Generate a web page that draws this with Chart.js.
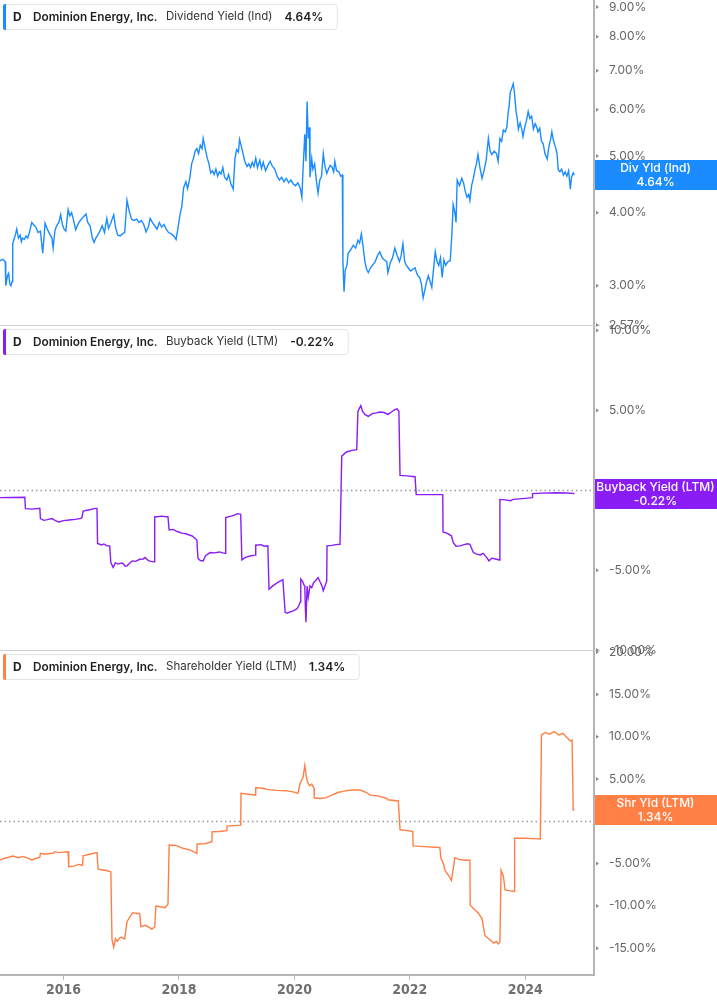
<!DOCTYPE html>
<html><head><meta charset="utf-8">
<script src="https://cdn.jsdelivr.net/npm/chart.js@4.4.1/dist/chart.umd.min.js"></script>
<style>html,body{margin:0;padding:0;background:#fff;}#wrap{position:relative;width:717px;height:1005px;}canvas{display:block;}</style>
</head><body><div id="wrap"><canvas id="c" width="717" height="1005"></canvas></div>
<script>
const ticker = 'D';
const company = 'Dominion Energy, Inc.';
const seriesNames = ['Dividend Yield (Ind)', 'Buyback Yield (LTM)', 'Shareholder Yield (LTM)'];
const shortNames = ['Div Yld (Ind)', 'Buyback Yield (LTM)', 'Shr Yld (LTM)'];
const colors = ['#1a8cff', '#8a1cf5', '#ff7f45'];

const xTicks = [2016, 2018, 2020, 2022, 2024];
const divTicks = [2.57, 3, 4, 5, 6, 7, 8, 9];
const buyTicks = [-10, -5, 0, 5, 10];
const shrTicks = [-15, -10, -5, 0, 5, 10, 15, 20];

const divDates = [2014.90,2014.95,2014.99,2015.00,2015.03,2015.05,2015.07,2015.09,2015.11,2015.12,2015.15,2015.17,2015.19,2015.22,2015.25,2015.27,2015.29,2015.32,2015.35,2015.38,2015.41,2015.45,2015.48,2015.52,2015.56,2015.60,2015.64,2015.66,2015.68,2015.72,2015.76,2015.80,2015.82,2015.85,2015.88,2015.92,2015.95,2015.98,2016.01,2016.04,2016.08,2016.11,2016.14,2016.17,2016.21,2016.25,2016.29,2016.33,2016.36,2016.39,2016.42,2016.46,2016.50,2016.53,2016.56,2016.59,2016.63,2016.67,2016.71,2016.75,2016.78,2016.82,2016.87,2016.90,2016.94,2016.98,2017.02,2017.06,2017.10,2017.14,2017.18,2017.22,2017.27,2017.31,2017.35,2017.39,2017.43,2017.47,2017.50,2017.54,2017.58,2017.62,2017.66,2017.70,2017.74,2017.78,2017.82,2017.87,2017.92,2017.95,2017.98,2018.02,2018.05,2018.08,2018.12,2018.15,2018.19,2018.22,2018.25,2018.28,2018.31,2018.34,2018.37,2018.40,2018.42,2018.46,2018.49,2018.52,2018.55,2018.58,2018.61,2018.64,2018.67,2018.70,2018.73,2018.76,2018.79,2018.83,2018.86,2018.90,2018.94,2018.97,2019.00,2019.03,2019.05,2019.08,2019.11,2019.14,2019.18,2019.21,2019.24,2019.27,2019.30,2019.33,2019.36,2019.40,2019.43,2019.46,2019.50,2019.54,2019.58,2019.62,2019.66,2019.70,2019.74,2019.78,2019.82,2019.86,2019.90,2019.94,2019.98,2020.02,2020.06,2020.10,2020.13,2020.15,2020.18,2020.20,2020.22,2020.24,2020.26,2020.27,2020.30,2020.32,2020.35,2020.38,2020.41,2020.44,2020.47,2020.50,2020.53,2020.56,2020.59,2020.62,2020.65,2020.68,2020.70,2020.73,2020.77,2020.80,2020.83,2020.84,2020.86,2020.88,2020.91,2020.93,2020.97,2021.02,2021.06,2021.10,2021.13,2021.16,2021.19,2021.22,2021.25,2021.28,2021.32,2021.36,2021.40,2021.44,2021.48,2021.52,2021.56,2021.60,2021.62,2021.66,2021.70,2021.74,2021.78,2021.82,2021.85,2021.88,2021.91,2021.94,2021.97,2022.01,2022.05,2022.09,2022.12,2022.14,2022.17,2022.20,2022.23,2022.26,2022.29,2022.32,2022.35,2022.38,2022.41,2022.44,2022.47,2022.50,2022.53,2022.56,2022.59,2022.62,2022.66,2022.70,2022.73,2022.75,2022.78,2022.80,2022.82,2022.86,2022.90,2022.93,2022.96,2022.99,2023.02,2023.04,2023.07,2023.10,2023.13,2023.15,2023.18,2023.21,2023.25,2023.28,2023.32,2023.36,2023.39,2023.42,2023.46,2023.50,2023.53,2023.56,2023.59,2023.62,2023.65,2023.68,2023.70,2023.72,2023.74,2023.77,2023.79,2023.81,2023.84,2023.86,2023.88,2023.91,2023.94,2023.96,2023.99,2024.02,2024.05,2024.08,2024.11,2024.14,2024.17,2024.20,2024.22,2024.25,2024.28,2024.31,2024.34,2024.38,2024.41,2024.44,2024.46,2024.49,2024.53,2024.55,2024.57,2024.60,2024.63,2024.66,2024.69,2024.72,2024.75,2024.78,2024.80,2024.83,2024.85];
const divYield = [3.31,3.33,3.30,3.00,3.12,3.15,3.02,3.00,3.05,3.54,3.62,3.68,3.75,3.62,3.66,3.57,3.62,3.60,3.65,3.62,3.70,3.85,3.82,3.78,3.70,3.72,3.41,3.60,3.84,3.75,3.68,3.62,3.48,3.72,3.80,3.85,3.97,3.82,3.75,3.72,4.05,3.95,4.00,3.90,3.74,3.82,3.88,3.92,3.95,3.98,3.85,3.80,3.62,3.56,3.62,3.66,3.72,3.80,3.70,3.91,3.76,3.84,3.97,3.78,3.66,3.65,3.68,3.70,4.20,4.02,3.90,3.88,3.90,3.85,3.88,3.82,3.71,3.78,3.91,3.85,3.80,3.75,3.85,3.78,3.82,3.75,3.70,3.68,3.64,3.60,3.75,3.98,4.10,4.41,4.52,4.40,4.60,4.85,4.95,5.10,5.15,5.05,5.22,5.15,5.36,5.12,4.96,4.85,4.68,4.72,4.65,4.75,4.62,4.70,4.66,4.78,4.60,4.55,4.65,4.48,4.39,4.95,5.13,5.08,5.34,5.20,5.05,4.90,4.80,4.85,4.78,4.88,4.80,4.96,4.78,4.92,4.76,4.88,4.72,4.82,4.90,4.80,4.75,4.62,4.55,4.60,4.52,4.58,4.50,4.55,4.48,4.45,4.50,4.41,4.25,4.75,5.45,4.90,6.20,5.36,5.60,4.60,4.95,4.75,4.85,4.55,4.32,4.55,4.62,5.05,4.80,4.67,4.75,4.82,4.79,4.70,4.90,4.72,4.70,4.62,4.64,3.31,2.93,3.19,3.25,3.41,3.45,3.52,3.48,3.59,3.55,3.68,3.50,3.31,3.20,3.16,3.22,3.26,3.30,3.38,3.43,3.35,3.32,3.30,3.16,3.28,3.35,3.48,3.38,3.30,3.38,3.54,3.30,3.25,3.22,3.18,3.20,3.22,3.15,3.12,3.10,3.02,2.86,2.95,3.05,3.12,3.05,2.98,3.20,3.43,3.30,3.25,3.35,3.10,3.32,3.25,3.30,3.31,3.71,4.13,4.00,3.85,4.55,4.45,4.58,4.50,4.35,4.25,4.30,4.20,4.45,4.58,4.75,4.83,5.03,4.80,4.58,4.70,4.90,5.36,5.10,5.03,5.10,5.05,4.90,5.36,5.30,5.54,5.50,5.60,5.90,6.10,6.43,6.55,6.65,6.45,5.96,5.80,5.56,5.70,5.55,5.40,5.60,5.75,5.96,5.80,5.85,5.56,5.68,5.60,5.50,5.58,5.30,5.25,5.05,4.94,5.20,5.35,5.50,5.30,5.15,5.05,4.74,4.70,4.75,4.64,4.70,4.62,4.72,4.39,4.60,4.68,4.64];

const buyDates = [2014.90,2015.10,2015.33,2015.34,2015.45,2015.59,2015.60,2015.66,2015.72,2015.80,2015.86,2015.92,2016.00,2016.10,2016.20,2016.30,2016.32,2016.34,2016.45,2016.55,2016.58,2016.59,2016.66,2016.70,2016.75,2016.80,2016.82,2016.86,2016.90,2016.95,2017.00,2017.03,2017.07,2017.10,2017.15,2017.19,2017.25,2017.32,2017.38,2017.41,2017.47,2017.52,2017.57,2017.58,2017.70,2017.81,2017.83,2017.90,2017.97,2018.05,2018.12,2018.18,2018.23,2018.31,2018.33,2018.37,2018.42,2018.46,2018.54,2018.62,2018.70,2018.76,2018.80,2018.81,2018.90,2018.96,2019.01,2019.07,2019.09,2019.15,2019.25,2019.32,2019.33,2019.42,2019.48,2019.54,2019.56,2019.62,2019.70,2019.80,2019.84,2019.88,2019.92,2019.98,2020.04,2020.06,2020.08,2020.10,2020.11,2020.14,2020.17,2020.18,2020.19,2020.20,2020.22,2020.24,2020.27,2020.30,2020.33,2020.37,2020.41,2020.44,2020.48,2020.50,2020.53,2020.56,2020.565,2020.65,2020.72,2020.79,2020.82,2020.90,2021.00,2021.08,2021.10,2021.15,2021.18,2021.22,2021.28,2021.35,2021.42,2021.48,2021.55,2021.62,2021.68,2021.74,2021.78,2021.81,2021.83,2021.95,2022.09,2022.11,2022.30,2022.57,2022.575,2022.65,2022.72,2022.75,2022.80,2022.87,2022.94,2023.00,2023.04,2023.10,2023.16,2023.22,2023.27,2023.33,2023.37,2023.42,2023.48,2023.55,2023.56,2023.65,2023.74,2023.79,2023.95,2024.12,2024.125,2024.30,2024.55,2024.70,2024.83,2024.85];
const buyYield = [-0.46,-0.45,-0.44,-1.15,-1.18,-1.12,-1.77,-1.88,-1.84,-1.77,-1.90,-1.98,-1.90,-1.86,-1.82,-1.76,-1.71,-1.30,-1.22,-1.13,-1.13,-3.33,-3.42,-3.36,-3.48,-3.48,-4.52,-4.83,-4.55,-4.62,-4.55,-4.58,-4.75,-4.73,-4.55,-4.42,-4.45,-4.32,-4.30,-4.21,-4.40,-4.45,-4.48,-1.67,-1.62,-1.67,-2.48,-2.45,-2.58,-2.68,-2.72,-2.80,-2.86,-3.11,-4.27,-4.40,-4.42,-4.10,-3.90,-3.92,-3.86,-3.92,-3.95,-1.71,-1.62,-1.55,-1.46,-1.50,-4.36,-4.20,-4.10,-4.06,-3.44,-3.40,-3.50,-3.48,-6.19,-6.00,-5.80,-5.60,-7.64,-7.70,-7.62,-7.55,-7.43,-7.33,-7.20,-7.00,-5.56,-5.70,-5.95,-6.00,-7.40,-8.26,-6.00,-6.70,-5.98,-6.10,-5.80,-5.65,-5.46,-5.70,-6.00,-6.29,-6.00,-5.67,-3.48,-3.45,-3.40,-3.38,2.14,2.40,2.50,2.55,4.94,5.30,4.95,4.75,4.63,4.80,4.85,4.90,4.87,4.75,4.90,5.05,5.10,4.95,0.93,0.90,0.85,-0.27,-0.27,-0.27,-2.61,-2.70,-2.85,-3.27,-3.50,-3.48,-3.40,-3.35,-3.38,-3.90,-4.00,-4.05,-3.95,-4.20,-4.42,-4.25,-4.30,-4.36,-0.57,-0.60,-0.65,-0.57,-0.52,-0.46,-0.21,-0.18,-0.15,-0.17,-0.19,-0.22];

const shrDates = [2014.90,2014.97,2015.05,2015.12,2015.22,2015.30,2015.38,2015.45,2015.52,2015.59,2015.60,2015.68,2015.76,2015.82,2015.85,2015.92,2016.00,2016.08,2016.09,2016.18,2016.26,2016.33,2016.34,2016.45,2016.58,2016.60,2016.68,2016.76,2016.82,2016.84,2016.87,2016.90,2016.93,2016.97,2017.00,2017.06,2017.10,2017.15,2017.20,2017.27,2017.32,2017.34,2017.42,2017.50,2017.53,2017.58,2017.60,2017.68,2017.76,2017.81,2017.83,2017.95,2018.07,2018.20,2018.31,2018.315,2018.45,2018.57,2018.575,2018.70,2018.83,2018.835,2019.07,2019.075,2019.20,2019.32,2019.33,2019.45,2019.55,2019.70,2019.85,2020.00,2020.06,2020.10,2020.15,2020.18,2020.20,2020.22,2020.26,2020.30,2020.34,2020.345,2020.45,2020.55,2020.62,2020.75,2020.88,2021.00,2021.14,2021.25,2021.31,2021.45,2021.60,2021.62,2021.80,2021.83,2021.95,2022.05,2022.055,2022.25,2022.52,2022.54,2022.58,2022.61,2022.68,2022.72,2022.78,2022.85,2022.95,2023.04,2023.045,2023.10,2023.18,2023.25,2023.30,2023.35,2023.39,2023.45,2023.50,2023.53,2023.56,2023.58,2023.62,2023.65,2023.72,2023.81,2023.815,2024.00,2024.15,2024.26,2024.28,2024.35,2024.42,2024.50,2024.58,2024.65,2024.72,2024.78,2024.81,2024.83,2024.85];
const shrYield = [-4.57,-4.40,-4.25,-4.10,-4.30,-4.15,-4.35,-4.57,-4.40,-4.25,-3.78,-3.90,-3.80,-3.78,-3.59,-3.70,-3.65,-3.60,-5.37,-5.30,-5.10,-5.20,-4.07,-3.90,-3.71,-5.67,-5.75,-5.85,-5.96,-13.95,-14.89,-13.90,-14.20,-13.80,-13.71,-13.90,-11.87,-11.30,-10.80,-10.90,-10.90,-12.46,-12.30,-12.60,-12.77,-12.46,-10.01,-10.10,-10.21,-9.80,-2.80,-2.85,-3.19,-3.40,-3.78,-2.68,-2.65,-2.41,-1.23,-1.20,-1.11,-0.56,-0.45,3.31,3.20,3.11,3.97,3.90,3.75,3.65,3.62,3.45,3.31,4.49,5.20,6.60,5.60,4.80,4.20,4.40,3.90,2.75,2.70,2.80,3.00,3.40,3.60,3.70,3.70,3.40,3.10,3.00,2.70,2.55,2.40,-1.00,-1.10,-1.20,-2.90,-3.00,-3.10,-4.40,-5.00,-5.80,-6.50,-7.00,-4.30,-4.50,-4.60,-4.60,-9.90,-10.30,-10.80,-11.50,-13.50,-13.80,-14.00,-14.40,-14.20,-14.50,-14.30,-5.80,-6.50,-8.10,-8.20,-8.30,-2.00,-2.00,-2.05,-2.10,10.20,10.50,10.30,10.60,10.20,10.40,9.90,9.50,9.60,1.34,1.34];

const toPts = (d, v) => d.map((t, i) => ({x: t, y: v[i]}));
const AXIS = '#b5b5b5';
const TXT = '#666666';
const yFont = {family: 'Inter, "Noto Sans", sans-serif', size: 12};

function yScale(type, min, max, ticksArr) {
  return {
    type, position: 'right', stack: 'panels', stackWeight: 1, min, max,
    afterBuildTicks: s => { s.ticks = ticksArr.map(v => ({value: v})); },
    afterFit: s => { s.width = 123; s.paddingTop = 0; s.paddingBottom = 0; },
    ticks: {autoSkip: false, padding: 7, color: TXT, font: yFont, callback: v => Number(v).toFixed(2) + '%'},
    grid: {display: false},
    border: {display: true, color: AXIS, width: 2}
  };
}

const panelPlugin = {
  id: 'panels',
  beforeDatasetsDraw(chart) {
    const c = chart.ctx, a = chart.chartArea;
    c.save();
    c.strokeStyle = '#9a9a9a'; c.lineWidth = 1.5; c.setLineDash([1.5, 3]);
    ['y2', 'y3'].forEach(id => {
      const y = Math.round(chart.scales[id].getPixelForValue(0)) + 0.5;
      c.beginPath(); c.moveTo(a.left, y); c.lineTo(a.right, y); c.stroke();
    });
    c.restore();
  },
  afterDraw(chart) {
    const c = chart.ctx, a = chart.chartArea;
    const ids = ['y1', 'y2', 'y3'];
    const tickSets = [divTicks, buyTicks, shrTicks];
    const series = [divYield, buyYield, shrYield];
    c.save();
    c.strokeStyle = '#cfcfcf'; c.lineWidth = 1;
    ['y1', 'y2'].forEach(id => {
      const y = Math.round(chart.scales[id].bottom) + 0.5;
      c.beginPath(); c.moveTo(0, y); c.lineTo(a.right + 6, y); c.stroke();
    });
    c.fillStyle = '#8a8a8a';
    ids.forEach((id, k) => {
      const s = chart.scales[id];
      tickSets[k].forEach(v => {
        const y = s.getPixelForValue(v);
        c.beginPath(); c.moveTo(a.right + 2, y - 2); c.lineTo(a.right + 5, y); c.lineTo(a.right + 2, y + 2); c.closePath(); c.fill();
      });
    });
    ids.forEach((id, k) => {
      const s = chart.scales[id];
      const last = series[k][series[k].length - 1];
      const valTxt = last.toFixed(2) + '%';
      const top = s.top + 4, h = 25, cy = top + h / 2 + 0.5;
      c.textBaseline = 'middle'; c.textAlign = 'left';
      c.font = '400 11.5px Inter, sans-serif';
      const nameW = c.measureText(seriesNames[k]).width;
      c.font = '600 12px Inter, sans-serif';
      const valW = c.measureText(valTxt).width;
      const valX = 166 + nameW + 12;
      const right = valX + valW + 14;
      c.fillStyle = '#ffffff'; c.strokeStyle = '#e4e4e4'; c.lineWidth = 1;
      c.beginPath(); c.roundRect(3.5, top + 0.5, right - 3.5, h, 3); c.fill(); c.stroke();
      c.fillStyle = colors[k];
      c.beginPath(); c.roundRect(3, top, 3, h + 1, [2, 0, 0, 2]); c.fill();
      c.fillStyle = '#1f1f1f';
      c.font = '700 12px Inter, sans-serif'; c.fillText(ticker, 13, cy);
      c.font = '600 11.8px Inter, sans-serif'; c.fillText(company, 33, cy);
      c.fillStyle = '#333333';
      c.font = '400 11.5px Inter, sans-serif'; c.fillText(seriesNames[k], 166, cy);
      c.fillStyle = '#1f1f1f';
      c.font = '600 12px Inter, sans-serif'; c.fillText(valTxt, valX, cy);
      const vy = s.getPixelForValue(last);
      c.fillStyle = colors[k];
      c.fillRect(a.right + 1, Math.round(vy) - 15, 717 - a.right - 1, 30);
      c.fillStyle = '#ffffff'; c.textAlign = 'center';
      c.font = '500 12px Inter, sans-serif';
      const cx = (a.right + 717) / 2;
      c.fillText(shortNames[k], cx, Math.round(vy) - 7);
      c.fillText(valTxt, cx, Math.round(vy) + 7);
    });
    c.restore();
  }
};

new Chart(document.getElementById('c'), {
  type: 'line',
  data: {datasets: [
    {data: toPts(divDates, divYield), yAxisID: 'y1', borderColor: colors[0], borderWidth: 1.4, pointRadius: 0, tension: 0},
    {data: toPts(buyDates, buyYield), yAxisID: 'y2', borderColor: colors[1], borderWidth: 1.4, pointRadius: 0, tension: 0},
    {data: toPts(shrDates, shrYield), yAxisID: 'y3', borderColor: colors[2], borderWidth: 1.4, pointRadius: 0, tension: 0}
  ]},
  options: {
    responsive: false, animation: false, devicePixelRatio: 1,
    layout: {padding: 0},
    plugins: {legend: {display: false}, tooltip: {enabled: false}},
    scales: {
      x: {
        type: 'linear', position: 'bottom', min: 2014.9, max: 2025.19,
        afterBuildTicks: s => { s.ticks = xTicks.map(v => ({value: v})); },
        afterFit: s => { s.height = 30; s.paddingLeft = 0; s.paddingRight = 0; },
        ticks: {autoSkip: false, maxRotation: 0, padding: 2, color: '#707070', callback: v => String(v),
          font: {family: '"Liberation Sans Narrow", "DejaVu Sans Condensed", "Roboto Condensed", sans-serif', size: 14, weight: 'bold'}},
        grid: {drawOnChartArea: false, drawTicks: true, tickLength: 5, color: AXIS, lineWidth: 1},
        border: {display: true, color: AXIS, width: 2}
      },
      y1: yScale('logarithmic', 2.57, 9.25, divTicks),
      y2: yScale('linear', -10, 10.35, buyTicks),
      y3: yScale('linear', -18.17, 20.25, shrTicks)
    }
  },
  plugins: [panelPlugin]
});
</script>
</body></html>
